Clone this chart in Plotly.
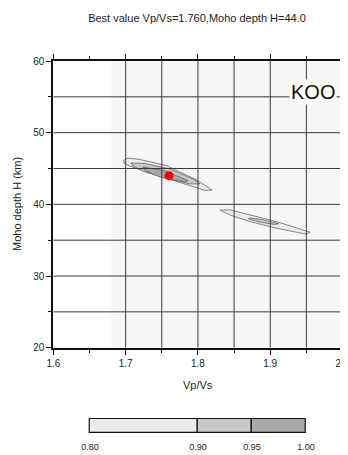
import plotly.graph_objects as go

# ---------------- data ----------------
VPVS_RANGE = [1.6, 2.0]
H_RANGE = [20, 60]
VPVS_TICKS = [1.6, 1.7, 1.8, 1.9, 2.0]
VPVS_TICK_LABELS = ["1.6", "1.7", "1.8", "1.9", "2.0"]
H_TICKS = [20, 30, 40, 50, 60]
VPVS_MINOR_TICKS = [1.65, 1.75, 1.85, 1.95]
H_MINOR_TICKS = [25, 35, 45, 55]
GRID_VPVS = [1.70, 1.75, 1.80, 1.85, 1.90, 1.95]
GRID_H = [25, 30, 35, 40, 45, 50, 55]
SEARCH_VPVS = [1.68, 2.0]      # extent of the H-k stacking grid
SEARCH_H = [20, 60]
BEST_VPVS = 1.760
BEST_H = 44.0
STATION = "KOO"

LEVELS = [0.80, 0.90, 0.95, 1.00]
LEVEL_COLORS = ["#ebebeb", "#c8c8c8", "#a9a9a9"]

# contour of normalised stack amplitude
# main cluster
C1_080_VPVS = [1.6970, 1.7032, 1.7198, 1.7557, 1.7972, 1.8194, 1.8097, 1.7723, 1.7267, 1.7032, 1.6976]
C1_080_H = [46.12, 46.47, 46.26, 45.43, 43.47, 42.01, 41.94, 43.12, 44.59, 45.43, 45.77]
C1_090_VPVS = [1.7073, 1.7267, 1.7613, 1.7959, 1.8028, 1.7889, 1.7544, 1.7267, 1.7101]
C1_090_H = [45.77, 45.70, 44.94, 43.40, 42.85, 42.85, 43.75, 44.52, 45.36]
C1_095_VPVS = [1.7239, 1.7544, 1.7862, 1.7820, 1.7474, 1.7267]
C1_095_H = [45.22, 44.66, 43.33, 43.12, 43.82, 44.73]
# secondary cluster
C2_080_VPVS = [1.8304, 1.8442, 1.8627, 1.9089, 1.9549, 1.9503, 1.9089, 1.8719, 1.8442, 1.8350]
C2_080_H = [39.22, 39.22, 38.76, 37.59, 36.11, 35.83, 36.67, 37.59, 38.52, 38.98]
C2_090_VPVS = [1.872, 1.890, 1.912, 1.905, 1.885, 1.870]
C2_090_H = [38.10, 37.85, 37.30, 37.20, 37.55, 37.95]

CONTOURS = [
    (C1_080_VPVS, C1_080_H, 0),
    (C2_080_VPVS, C2_080_H, 0),
    (C1_090_VPVS, C1_090_H, 1),
    (C2_090_VPVS, C2_090_H, 1),
    (C1_095_VPVS, C1_095_H, 2),
]

FONT = "Liberation Sans, Arial, sans-serif"
TXT = "#222222"

fig = go.Figure()

# search grid background
fig.add_trace(go.Scatter(
    x=[SEARCH_VPVS[0], SEARCH_VPVS[1], SEARCH_VPVS[1], SEARCH_VPVS[0], SEARCH_VPVS[0]],
    y=[SEARCH_H[0], SEARCH_H[0], SEARCH_H[1], SEARCH_H[1], SEARCH_H[0]],
    fill="toself", fillcolor="#f7f7f7", line=dict(width=0), mode="lines",
    hoverinfo="skip", showlegend=False))

# filled contours
for xs, ys, lev in CONTOURS:
    fig.add_trace(go.Scatter(
        x=xs + xs[:1], y=ys + ys[:1], fill="toself", fillcolor=LEVEL_COLORS[lev],
        mode="lines", line=dict(color="#555555", width=0.7), hoverinfo="skip",
        showlegend=False))

# grid lines on top
gx, gy = [], []
for v in GRID_VPVS:
    gx += [v, v, None]
    gy += [H_RANGE[0], H_RANGE[1], None]
for h in GRID_H:
    gx += [VPVS_RANGE[0], VPVS_RANGE[1], None]
    gy += [h, h, None]
fig.add_trace(go.Scatter(x=gx, y=gy, mode="lines",
                         line=dict(color="#3a3a3a", width=1),
                         hoverinfo="skip", showlegend=False))

# best value
fig.add_trace(go.Scatter(x=[BEST_VPVS], y=[BEST_H], mode="markers",
                         marker=dict(color="#ff0000", size=9, line=dict(width=0)),
                         showlegend=False))

# colour scale bar
mids = [(LEVELS[i] + LEVELS[i + 1]) / 2 for i in range(len(LEVEL_COLORS))]
widths = [LEVELS[i + 1] - LEVELS[i] for i in range(len(LEVEL_COLORS))]
fig.add_trace(go.Bar(x=mids, y=[1] * len(mids), width=widths, base=0,
                     marker=dict(color=LEVEL_COLORS, line=dict(color="#111111", width=1.2)),
                     xaxis="x2", yaxis="y2", showlegend=False, hoverinfo="skip"))

# page has an 8px body margin: the figure is drawn offset by OFF
OFF = 8
W, Hpx = 348, 455 - OFF


def px(x):
    return (x - OFF) / W


def py(y):
    return 1 - (y - OFF) / Hpx


axis_common = dict(showline=True, linewidth=2, linecolor="#111111", mirror="ticks",
                   ticks="outside", ticklen=5, tickwidth=1, tickcolor="#111111",
                   showgrid=False, zeroline=False, automargin=False,
                   ticklabeloverflow="allow",
                   tickfont=dict(family=FONT, size=10, color=TXT))
minor_common = dict(ticks="outside", ticklen=3, tickwidth=1, tickcolor="#111111",
                    showgrid=False)

fig.update_layout(
    template="none",
    width=W, height=Hpx,
    margin=dict(l=0, r=0, t=0, b=0, pad=0, autoexpand=False),
    paper_bgcolor="white", plot_bgcolor="white",
    bargap=0,
    title=dict(text=f"Best value Vp/Vs={BEST_VPVS:.3f},Moho depth H={BEST_H:.1f}",
               x=px(197), xanchor="center", y=py(18), yanchor="middle",
               xref="paper", yref="paper", automargin=False,
               font=dict(family=FONT, size=11, color=TXT)),
    xaxis=dict(domain=[px(53.4), px(342.5)], range=VPVS_RANGE,
               tickmode="array", tickvals=VPVS_TICKS, ticktext=VPVS_TICK_LABELS,
               minor=dict(tickmode="array", tickvals=VPVS_MINOR_TICKS, **minor_common),
               **axis_common),
    yaxis=dict(domain=[py(347.7), py(61)], range=H_RANGE,
               tickmode="array", tickvals=H_TICKS,
               minor=dict(tickmode="array", tickvals=H_MINOR_TICKS, **minor_common),
               **axis_common),
    xaxis2=dict(domain=[px(87.84), px(308.16)], range=[0.798, 1.002], anchor="y2",
                tickmode="array", tickvals=LEVELS, tickformat=".2f",
                ticks="outside", ticklen=4, tickcolor="rgba(0,0,0,0)",
                showline=False, showgrid=False, zeroline=False, automargin=False,
                tickfont=dict(family=FONT, size=9, color=TXT)),
    yaxis2=dict(domain=[py(434.04), py(417.96)], range=[-0.1, 1.1],
                anchor="x2", visible=False, automargin=False),
    annotations=[
        dict(text=STATION, x=1.959, y=55.68, xref="x", yref="y", showarrow=False,
             bgcolor="white", borderpad=1,
             font=dict(family=FONT, size=20, color="#111111")),
        dict(text="Vp/Vs", x=px(198), y=py(385), xref="paper", yref="paper",
             showarrow=False, yanchor="middle",
             font=dict(family=FONT, size=11, color=TXT)),
        dict(text="Moho depth H (km)", x=px(17), y=py(204), xref="paper",
             yref="paper", showarrow=False, textangle=-90, xanchor="center",
             yanchor="middle", font=dict(family=FONT, size=11, color=TXT)),
    ],
)

fig.write_html("out.html")
